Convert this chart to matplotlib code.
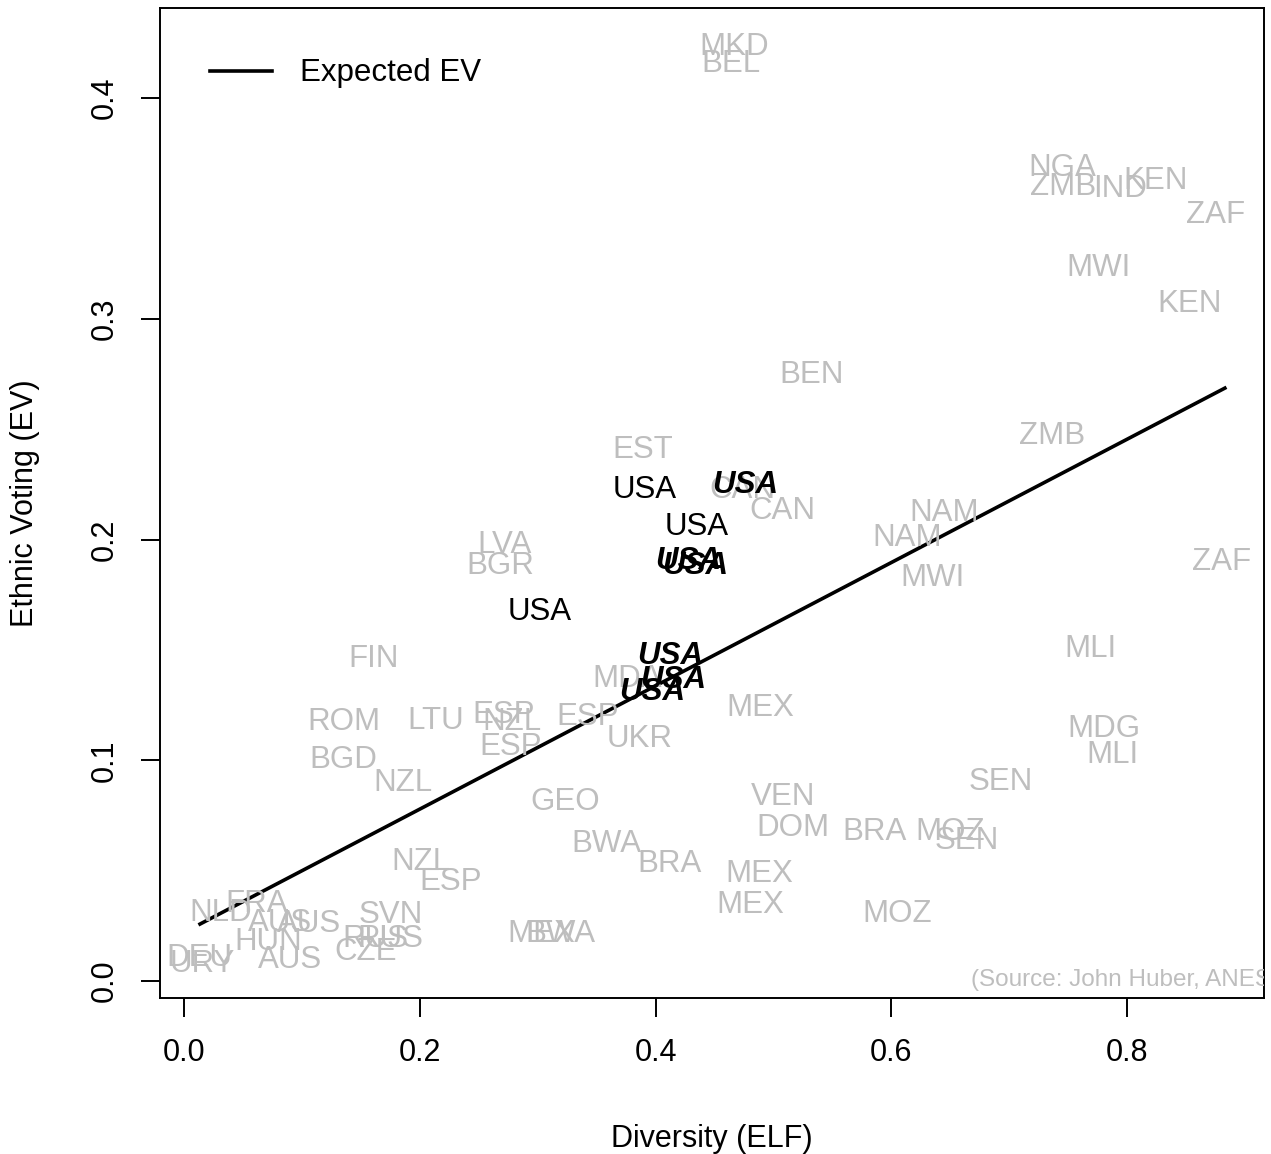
import matplotlib
matplotlib.use("Agg")
import matplotlib.pyplot as plt

plt.rcParams['font.family'] = ['Liberation Sans', 'DejaVu Sans']

# ---- Country elections: diversity (ELF) vs ethnic voting (EV) ----
countries = ["MKD", "BEL", "NGA", "ZMB", "IND", "KEN", "ZAF", "MWI", "KEN", "BEN",
             "ZMB", "EST", "CAN", "CAN", "NAM", "NAM", "LVA", "BGR", "ZAF", "MWI",
             "FIN", "MDA", "MLI", "MEX", "ROM", "LTU", "ESP", "NZL", "ESP", "ESP",
             "UKR", "MDG", "MLI", "BGD", "NZL", "SEN", "VEN", "GEO", "DOM", "BRA",
             "MOZ", "SEN", "BWA", "NZL", "BRA", "MEX", "ESP", "MEX", "MOZ", "FRA",
             "NLD", "AUS", "AUS", "HUN", "SVN", "RUS", "RUS", "CZE", "AUS", "DEU",
             "URY", "MEX", "BWA"]
elf = [0.4666, 0.4640, 0.7449, 0.7457, 0.7941, 0.8238, 0.8747, 0.7754, 0.8534, 0.5328,
       0.7364, 0.3894, 0.4734, 0.5073, 0.6448, 0.6134, 0.2723, 0.2681, 0.8806, 0.6354,
       0.1612, 0.3758, 0.7686, 0.4887, 0.1357, 0.2138, 0.2715, 0.2783, 0.3427, 0.2774,
       0.3868, 0.7805, 0.7873, 0.1349, 0.1858, 0.6931, 0.5082, 0.3232, 0.5166, 0.5862,
       0.6498, 0.6643, 0.3580, 0.2011, 0.4123, 0.4878, 0.2265, 0.4802, 0.6049, 0.0619,
       0.0314, 0.0814, 0.1060, 0.0713, 0.1756, 0.1620, 0.1748, 0.1544, 0.0899, 0.0127,
       0.0153, 0.3029, 0.3190]
ev = [0.4245, 0.4168, 0.3697, 0.3611, 0.3606, 0.3638, 0.3484, 0.3248, 0.3081, 0.2759,
      0.2487, 0.2420, 0.2238, 0.2143, 0.2134, 0.2025, 0.1989, 0.1894, 0.1912, 0.1840,
      0.1473, 0.1382, 0.1518, 0.1251, 0.1187, 0.1196, 0.1219, 0.1187, 0.1210, 0.1074,
      0.1110, 0.1156, 0.1038, 0.1015, 0.0911, 0.0916, 0.0848, 0.0825, 0.0707, 0.0689,
      0.0689, 0.0648, 0.0635, 0.0553, 0.0544, 0.0499, 0.0463, 0.0358, 0.0318, 0.0363,
      0.0322, 0.0277, 0.0272, 0.0191, 0.0313, 0.0204, 0.0204, 0.0145, 0.0109, 0.0118,
      0.0091, 0.0227, 0.0227]

# US elections (plain) and US elections (bold italic)
usa_elf = [0.3911, 0.4352, 0.3020]
usa_ev = [0.2238, 0.2071, 0.1686]
usa_bi_elf = [0.4759, 0.4276, 0.4335, 0.4123, 0.4148, 0.3970]
usa_bi_ev = [0.2265, 0.1917, 0.1894, 0.1486, 0.1378, 0.1323]

# expected EV line
line_elf = [0.0136, 0.883]
line_ev = [0.0258, 0.2686]

gray = "#bebebe"
fs = 22.5

fig = plt.figure(figsize=(12.71, 11.54), dpi=100)
ax = fig.add_axes([160 / 1271, 1 - 998 / 1154, 1104 / 1271, 990 / 1154])

for c, x, y in zip(countries, elf, ev):
    ax.text(x, y, c, color=gray, fontsize=fs, ha="center", va="center_baseline")

ax.plot(line_elf, line_ev, color="black", lw=2.6, label="Expected EV")

for x, y in zip(usa_elf, usa_ev):
    ax.text(x, y, "USA", color="black", fontsize=fs, ha="center", va="center_baseline")
for x, y in zip(usa_bi_elf, usa_bi_ev):
    ax.text(x, y, "USA", color="black", fontsize=fs, ha="center", va="center_baseline",
            fontweight="bold", fontstyle="italic")

ax.text(0.668, 0.0014, "(Source: John Huber, ANES)", color=gray, fontsize=17.5,
        ha="left", va="center_baseline", clip_on=True)

ax.set_xlim(-0.02036, 0.9162)
ax.set_ylim(-0.0077, 0.4408)
ax.set_xticks([0.0, 0.2, 0.4, 0.6, 0.8])
ax.set_xticklabels(["0.0", "0.2", "0.4", "0.6", "0.8"])
ax.set_yticks([0.0, 0.1, 0.2, 0.3, 0.4])
ax.set_yticklabels(["0.0", "0.1", "0.2", "0.3", "0.4"], rotation=90, va="center")
ax.tick_params(length=14, width=1.4, labelsize=22, pad=15)
for s in ax.spines.values():
    s.set_linewidth(1.4)

ax.set_xlabel("Diversity (ELF)", fontsize=22, labelpad=40)
ax.set_ylabel("Ethnic Voting (EV)", fontsize=22, labelpad=36)

ax.legend(loc="upper left", bbox_to_anchor=(0.045, 0.949), frameon=False,
          fontsize=fs, handlelength=2.0, handletextpad=0.9, borderpad=0, borderaxespad=0)

plt.savefig("out.png", dpi=100)
